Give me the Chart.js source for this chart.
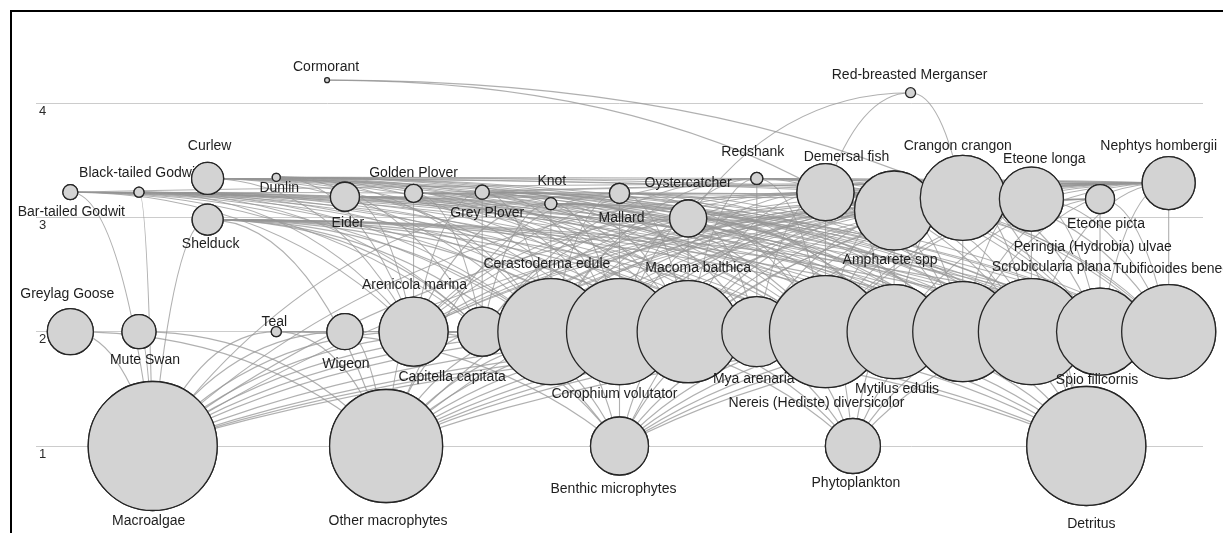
<!DOCTYPE html>
<html>
<head>
<meta charset="utf-8">
<title>Food web</title>
<script src="https://cdn.jsdelivr.net/npm/chart.js@4.4.1/dist/chart.umd.min.js"></script>
<style>
    body { margin: 0; background: #fff; }
    #wrap { position: relative; width: 1223px; height: 533px; overflow: hidden; }
    #frame { position: absolute; left: 10px; top: 10px; width: 1400px; height: 700px; border: 2px solid #000; pointer-events: none; }
</style>
</head>
<body>
<div id="wrap">
    <canvas id="foodWeb" width="1223" height="533"></canvas>
    <div id="frame"></div>
</div>
<script>
// species (nodes)
const species = [
    'Cormorant', 'Red-breasted Merganser',
    'Bar-tailed Godwit', 'Black-tailed Godwit', 'Curlew', 'Shelduck', 'Dunlin', 'Eider',
    'Golden Plover', 'Grey Plover', 'Knot', 'Mallard', 'Oystercatcher', 'Redshank',
    'Demersal fish', 'Ampharete spp', 'Crangon crangon', 'Eteone longa', 'Eteone picta', 'Nephtys hombergii',
    'Greylag Goose', 'Mute Swan', 'Teal', 'Wigeon', 'Arenicola marina', 'Capitella capitata',
    'Cerastoderma edule', 'Corophium volutator', 'Macoma balthica', 'Mya arenaria',
    'Nereis (Hediste) diversicolor', 'Mytilus edulis', 'Peringia (Hydrobia) ulvae',
    'Scrobicularia plana', 'Spio filicornis', 'Tubificoides benedii',
    'Macroalgae', 'Other macrophytes', 'Benthic microphytes', 'Phytoplankton', 'Detritus'
];

// trophic level of each species (y axis)
const trophicLevel = [
    4.20, 4.09,
    3.22, 3.22, 3.34, 2.98, 3.35, 3.18,
    3.21, 3.22, 3.12, 3.21, 2.99, 3.34,
    3.22, 3.06, 3.17, 3.16, 3.16, 3.30,
    2, 2, 2, 2, 2, 2,
    2, 2, 2, 2,
    2, 2, 2,
    2, 2, 2,
    1, 1, 1, 1, 1
];

// column slot of each species
const column = [
    3.74, 12.24,
    0, 1, 2, 2, 3, 4,
    5, 6, 7, 8, 9, 10,
    11, 12, 13, 14, 15, 16,
    0, 1, 3, 4, 5, 6,
    7, 8, 9, 10,
    11, 12, 13,
    14, 15, 16,
    1.2, 4.6, 8, 11.4, 14.8
];

// relative biomass (bubble area)
const biomass = [
    6, 25,
    56, 25, 256, 240, 16, 210,
    81, 49, 36, 100, 342, 36,
    812, 1560, 1806, 1024, 210, 702,
    529, 289, 25, 324, 1190, 600,
    2809, 2809, 2601, 1225,
    3136, 2209, 2500,
    2809, 1892, 2209,
    4160, 3192, 841, 756, 3540
];

// who eats whom: predator -> prey list
const diets = {
    'Cormorant': ['Demersal fish', 'Crangon crangon'],
    'Red-breasted Merganser': ['Demersal fish', 'Crangon crangon', 'Oystercatcher'],
    'Bar-tailed Godwit': ['Macroalgae', 'Arenicola marina', 'Nereis (Hediste) diversicolor', 'Macoma balthica', 'Corophium volutator', 'Cerastoderma edule', 'Scrobicularia plana', 'Peringia (Hydrobia) ulvae', 'Nephtys hombergii', 'Spio filicornis', 'Capitella capitata', 'Mya arenaria', 'Tubificoides benedii', 'Eteone longa'],
    'Black-tailed Godwit': ['Macroalgae', 'Nereis (Hediste) diversicolor', 'Macoma balthica', 'Corophium volutator', 'Scrobicularia plana', 'Arenicola marina', 'Peringia (Hydrobia) ulvae', 'Cerastoderma edule', 'Tubificoides benedii', 'Spio filicornis', 'Capitella capitata', 'Mya arenaria'],
    'Curlew': ['Arenicola marina', 'Nereis (Hediste) diversicolor', 'Nephtys hombergii', 'Cerastoderma edule', 'Macoma balthica', 'Scrobicularia plana', 'Crangon crangon', 'Mya arenaria', 'Corophium volutator', 'Mytilus edulis', 'Peringia (Hydrobia) ulvae', 'Spio filicornis', 'Tubificoides benedii', 'Eteone longa'],
    'Shelduck': ['Macroalgae', 'Peringia (Hydrobia) ulvae', 'Corophium volutator', 'Macoma balthica', 'Nereis (Hediste) diversicolor', 'Tubificoides benedii', 'Spio filicornis', 'Capitella capitata', 'Cerastoderma edule', 'Scrobicularia plana', 'Mya arenaria', 'Benthic microphytes', 'Other macrophytes'],
    'Dunlin': ['Corophium volutator', 'Peringia (Hydrobia) ulvae', 'Nereis (Hediste) diversicolor', 'Macoma balthica', 'Spio filicornis', 'Tubificoides benedii', 'Capitella capitata', 'Eteone longa', 'Cerastoderma edule', 'Arenicola marina', 'Scrobicularia plana', 'Mya arenaria', 'Nephtys hombergii'],
    'Eider': ['Mytilus edulis', 'Cerastoderma edule', 'Macoma balthica', 'Crangon crangon', 'Peringia (Hydrobia) ulvae', 'Mya arenaria', 'Nereis (Hediste) diversicolor', 'Scrobicularia plana', 'Arenicola marina', 'Spio filicornis'],
    'Golden Plover': ['Arenicola marina', 'Nereis (Hediste) diversicolor', 'Capitella capitata', 'Tubificoides benedii', 'Corophium volutator', 'Macoma balthica', 'Peringia (Hydrobia) ulvae', 'Nephtys hombergii', 'Spio filicornis'],
    'Grey Plover': ['Capitella capitata', 'Nereis (Hediste) diversicolor', 'Arenicola marina', 'Macoma balthica', 'Nephtys hombergii', 'Corophium volutator', 'Peringia (Hydrobia) ulvae', 'Scrobicularia plana', 'Cerastoderma edule', 'Spio filicornis', 'Tubificoides benedii', 'Eteone longa'],
    'Knot': ['Cerastoderma edule', 'Macoma balthica', 'Peringia (Hydrobia) ulvae', 'Mytilus edulis', 'Corophium volutator', 'Scrobicularia plana', 'Mya arenaria', 'Nereis (Hediste) diversicolor', 'Arenicola marina', 'Spio filicornis', 'Capitella capitata'],
    'Mallard': ['Corophium volutator', 'Peringia (Hydrobia) ulvae', 'Macroalgae', 'Other macrophytes', 'Mytilus edulis', 'Cerastoderma edule', 'Macoma balthica', 'Nereis (Hediste) diversicolor', 'Scrobicularia plana', 'Crangon crangon'],
    'Oystercatcher': ['Macoma balthica', 'Cerastoderma edule', 'Mytilus edulis', 'Nereis (Hediste) diversicolor', 'Scrobicularia plana', 'Arenicola marina', 'Mya arenaria', 'Corophium volutator', 'Peringia (Hydrobia) ulvae', 'Nephtys hombergii', 'Capitella capitata'],
    'Redshank': ['Mya arenaria', 'Corophium volutator', 'Nereis (Hediste) diversicolor', 'Peringia (Hydrobia) ulvae', 'Macoma balthica', 'Crangon crangon', 'Nephtys hombergii', 'Tubificoides benedii', 'Eteone longa', 'Arenicola marina', 'Cerastoderma edule', 'Scrobicularia plana', 'Spio filicornis', 'Capitella capitata'],
    'Demersal fish': ['Nereis (Hediste) diversicolor', 'Crangon crangon', 'Corophium volutator', 'Macoma balthica', 'Cerastoderma edule', 'Arenicola marina', 'Nephtys hombergii', 'Peringia (Hydrobia) ulvae', 'Spio filicornis', 'Capitella capitata', 'Ampharete spp', 'Mya arenaria', 'Mytilus edulis', 'Scrobicularia plana', 'Tubificoides benedii', 'Eteone longa', 'Macroalgae'],
    'Ampharete spp': ['Mytilus edulis', 'Corophium volutator', 'Capitella capitata', 'Spio filicornis', 'Tubificoides benedii', 'Detritus', 'Benthic microphytes', 'Peringia (Hydrobia) ulvae', 'Nereis (Hediste) diversicolor'],
    'Crangon crangon': ['Peringia (Hydrobia) ulvae', 'Corophium volutator', 'Nereis (Hediste) diversicolor', 'Macoma balthica', 'Cerastoderma edule', 'Spio filicornis', 'Tubificoides benedii', 'Capitella capitata', 'Mya arenaria', 'Ampharete spp', 'Arenicola marina', 'Scrobicularia plana', 'Mytilus edulis', 'Macroalgae', 'Other macrophytes', 'Detritus'],
    'Eteone longa': ['Spio filicornis', 'Tubificoides benedii', 'Capitella capitata', 'Corophium volutator', 'Nereis (Hediste) diversicolor', 'Peringia (Hydrobia) ulvae', 'Scrobicularia plana', 'Macoma balthica', 'Arenicola marina', 'Cerastoderma edule', 'Mya arenaria'],
    'Eteone picta': ['Spio filicornis', 'Tubificoides benedii', 'Capitella capitata', 'Corophium volutator', 'Arenicola marina', 'Nereis (Hediste) diversicolor', 'Peringia (Hydrobia) ulvae', 'Macoma balthica'],
    'Nephtys hombergii': ['Tubificoides benedii', 'Spio filicornis', 'Capitella capitata', 'Corophium volutator', 'Macoma balthica', 'Peringia (Hydrobia) ulvae', 'Nereis (Hediste) diversicolor', 'Arenicola marina', 'Cerastoderma edule', 'Mya arenaria', 'Scrobicularia plana', 'Mytilus edulis', 'Macroalgae', 'Other macrophytes'],
    'Greylag Goose': ['Other macrophytes', 'Macroalgae'],
    'Mute Swan': ['Macroalgae', 'Other macrophytes'],
    'Teal': ['Other macrophytes', 'Macroalgae', 'Benthic microphytes', 'Peringia (Hydrobia) ulvae'],
    'Wigeon': ['Macroalgae', 'Other macrophytes'],
    'Arenicola marina': ['Benthic microphytes', 'Detritus', 'Macroalgae', 'Other macrophytes'],
    'Capitella capitata': ['Detritus', 'Benthic microphytes', 'Macroalgae', 'Other macrophytes'],
    'Cerastoderma edule': ['Phytoplankton', 'Benthic microphytes', 'Macroalgae', 'Other macrophytes'],
    'Corophium volutator': ['Benthic microphytes', 'Detritus', 'Phytoplankton', 'Macroalgae', 'Other macrophytes'],
    'Macoma balthica': ['Benthic microphytes', 'Detritus', 'Phytoplankton', 'Macroalgae', 'Other macrophytes'],
    'Mya arenaria': ['Phytoplankton', 'Benthic microphytes', 'Other macrophytes', 'Detritus'],
    'Nereis (Hediste) diversicolor': ['Benthic microphytes', 'Detritus', 'Phytoplankton', 'Macroalgae', 'Other macrophytes'],
    'Mytilus edulis': ['Phytoplankton', 'Benthic microphytes', 'Other macrophytes', 'Detritus'],
    'Peringia (Hydrobia) ulvae': ['Benthic microphytes', 'Macroalgae', 'Detritus', 'Phytoplankton', 'Other macrophytes'],
    'Scrobicularia plana': ['Benthic microphytes', 'Detritus', 'Phytoplankton', 'Macroalgae', 'Other macrophytes'],
    'Spio filicornis': ['Benthic microphytes', 'Phytoplankton', 'Macroalgae'],
    'Tubificoides benedii': ['Benthic microphytes', 'Other macrophytes']
};

// where each name sits relative to its bubble (px)
const labelOffset = [
    [-1, -13], [-1, -18],
    [1, 20], [0, -19], [2, -32], [3, 25], [3, 11], [3, 26],
    [0, -20], [5, 21], [1, -22], [2, 25], [0, -35], [-4, -26],
    [21, -35], [-4, 50], [-5, -52], [13, -40], [6, 25], [-10, -37],
    [-3, -38], [6, 28], [-2, -10], [1, 32], [1, -47], [-30, 45],
    [-4, -68], [-5, 62], [10, -64], [-3, 47],
    [-9, 71], [3, 57], [130, -85],
    [20, -65], [-3, 48], [6, -63],
    [-4, 75], [2, 75], [-6, 43], [3, 37], [5, 78]
];

const feedingLinks = [];
Object.keys(diets).forEach(pred => {
    diets[pred].forEach(prey => feedingLinks.push([species.indexOf(pred), species.indexOf(prey)]));
});

const labelFont = '14px "Liberation Sans", Arial, sans-serif';

// links under the bubbles, names drawn bubble by bubble
const foodWebPlugin = {
    id: 'foodWeb',
    beforeDatasetsDraw(chart) {
        const ctx = chart.ctx;
        const xs = chart.scales.x;
        const ys = chart.scales.y;
        ctx.save();
        ctx.strokeStyle = 'rgba(150, 150, 150, 0.75)';
        ctx.lineWidth = 1.1;
        feedingLinks.forEach(([a, b]) => {
            let top = a, bottom = b;
            if (trophicLevel[b] > trophicLevel[a]) { top = b; bottom = a; }
            const px = xs.getPixelForValue(column[top]);
            const py = ys.getPixelForValue(trophicLevel[top]);
            const qx = xs.getPixelForValue(column[bottom]);
            const qy = ys.getPixelForValue(trophicLevel[bottom]);
            ctx.beginPath();
            ctx.moveTo(px, py);
            ctx.quadraticCurveTo(px + 0.6 * (qx - px), py, qx, qy);
            ctx.stroke();
        });
        ctx.restore();
    },
    afterDatasetsDraw(chart) {
        const ctx = chart.ctx;
        const meta = chart.getDatasetMeta(0);
        ctx.save();
        meta.data.forEach((el, i) => {
            el.draw(ctx);
            ctx.font = labelFont;
            ctx.fillStyle = '#1e1e1e';
            ctx.textAlign = 'center';
            ctx.textBaseline = 'middle';
            ctx.fillText(species[i], el.x + labelOffset[i][0], el.y + labelOffset[i][1]);
        });
        ctx.restore();
    }
};

new Chart(document.getElementById('foodWeb'), {
    type: 'bubble',
    data: {
        datasets: [{
            label: 'Species',
            data: species.map((s, i) => ({ x: column[i], y: trophicLevel[i], r: Math.sqrt(biomass[i]) })),
            backgroundColor: '#d3d3d3',
            borderColor: '#262626',
            borderWidth: 1.3,
            hoverRadius: 0,
            clip: false
        }]
    },
    options: {
        responsive: false,
        animation: false,
        events: [],
        layout: { autoPadding: false, padding: { left: 30, right: 20, top: 103, bottom: 87 } },
        scales: {
            x: { type: 'linear', display: false, min: -0.5, max: 16.5 },
            y: {
                min: 1,
                max: 4,
                ticks: {
                    stepSize: 1,
                    mirror: true,
                    padding: 3,
                    labelOffset: 8,
                    color: '#2a2a2a',
                    font: { family: '"Liberation Sans", Arial, sans-serif', size: 13 }
                },
                grid: { color: '#cccccc', drawTicks: false },
                border: { display: false }
            }
        },
        plugins: {
            legend: { display: false },
            tooltip: { enabled: false }
        }
    },
    plugins: [foodWebPlugin]
});
</script>
</body>
</html>
